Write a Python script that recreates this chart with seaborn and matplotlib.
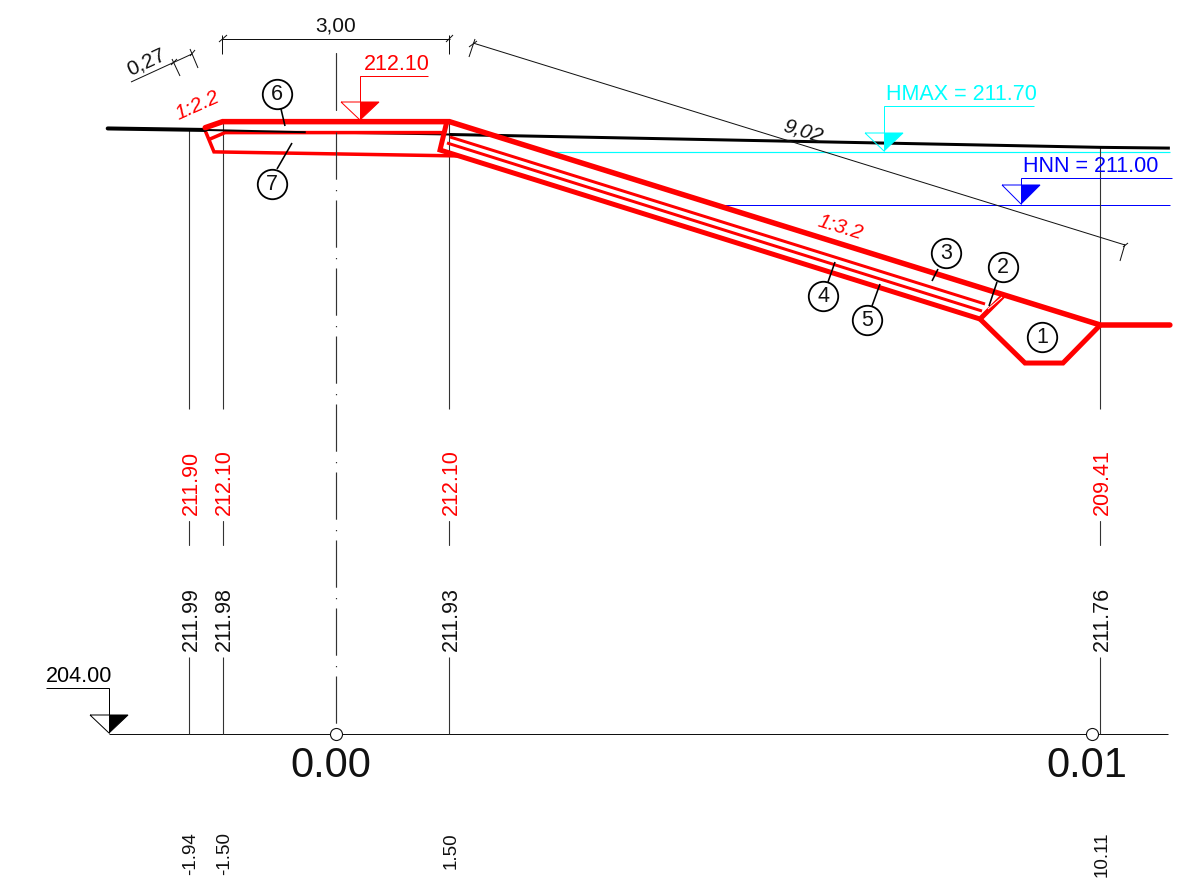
import matplotlib
matplotlib.use("Agg")
import matplotlib.pyplot as plt
from matplotlib.transforms import blended_transform_factory
import seaborn as sns

# profile in metres: station / elevation
STATIONS = [-1.94, -1.50, 1.50, 10.11]
STATION_LABELS = ["-1.94", "-1.50", "1.50", "10.11"]
DESIGN_LEVELS = ["211.90", "212.10", "212.10", "209.41"]
TERRAIN_LEVELS = ["211.99", "211.98", "211.93", "211.76"]
STATION_TOPS = [211.99, 212.10, 212.10, 211.76]

GROUND_X = [-3.02, -1.73, -0.40, 1.50, 10.11, 11.03]
GROUND_Z = [212.01, 211.99, 211.96, 211.93, 211.76, 211.75]

DYKE_TOP_X = [-1.73, -1.50, 1.50, 10.11, 11.03]
DYKE_TOP_Z = [212.02, 212.10, 212.10, 209.41, 209.41]
LAYER6_X = [-1.667, -1.468, 1.415]
LAYER6_Z = [211.87, 211.955, 211.955]
LAYER7_X = [-1.746, -1.614, 1.64]
LAYER7_Z = [212.02, 211.70, 211.646]
TOE_X = [1.468, 1.376, 8.519, 8.823]
TOE_Z = [212.108, 211.725, 209.489, 209.794]
FILTER1_X = [1.508, 8.585]
FILTER1_Z = [211.897, 209.688]
FILTER2_X = [1.468, 8.545]
FILTER2_Z = [211.818, 209.595]
DITCH_X = [8.519, 9.114, 9.616, 10.11]
DITCH_Z = [209.489, 208.907, 208.907, 209.41]
STRIP_X = [8.624, 8.81]
STRIP_Z = [209.622, 209.78]

HMAX_X = [2.80, 11.03]
HMAX_Z = [211.70, 211.70]
HNN_X = [5.106, 11.03]
HNN_Z = [211.00, 211.00]
DATUM_X = [-3.0, 11.0]
DATUM_Z = [204.00, 204.00]
CHAINAGE_X = [0.0, 10.0]
CHAINAGE_LABELS = ["0.00", "0.01"]

# numbered callouts, pixel positions of the bubble and its leader
CALLOUT_NAMES = ["1", "2", "3", "4", "5", "6", "7"]
CALLOUT_X = [1042, 1003, 946, 823, 867, 277, 272]
CALLOUT_Y = [338, 268, 254, 297, 321, 95, 185]
LEADER_X = [None, (997, 989), (938, 932), (828, 835), (872, 880), (281, 285), (277, 292)]
LEADER_Y = [None, (283, 307), (270, 282), (283, 263), (307, 285), (110, 127), (170, 144)]

RED = "#ff0000"
CYAN = "#00ffff"
BLUE = "#0000ff"
INK = "#111111"
PX_PER_M = 75.6
FONT = 15.5

sns.set_theme(style="white")
plt.rcParams["font.family"] = ["Liberation Sans", "DejaVu Sans"]
plt.rcParams["lines.scale_dashes"] = False


def draw(ax, xs, ys, color=INK, px=1.0, cap="butt", join="miter"):
    sns.lineplot(x=xs, y=ys, sort=False, estimator=None, errorbar=None, color=color,
                 linewidth=px * 0.72, solid_capstyle=cap, solid_joinstyle=join,
                 legend=False, ax=ax)


def level_marker(ax, apex_x, apex_y, half, height, leader_y, leader_end, color, text, text_x):
    top = apex_y - height
    draw(ax, [apex_x - half, apex_x + half, apex_x, apex_x - half],
         [top, top, apex_y, top], color, 1.0)
    ax.fill([apex_x, apex_x + half, apex_x], [top, top, apex_y], color=color, lw=0)
    draw(ax, [apex_x, apex_x, leader_end], [apex_y, leader_y, leader_y], color, 1.0)
    ax.text(text_x, leader_y - 2, text, color=color, fontsize=FONT, ha="left", va="bottom")


fig = plt.figure(figsize=(11.81, 8.79), dpi=100)
ax = fig.add_axes([0, 0, 1, 1])
ov = fig.add_axes([0, 0, 1, 1])
ov.patch.set_visible(False)

# --- metres axes: the actual section ---
draw(ax, HMAX_X, HMAX_Z, CYAN, 1.2)
draw(ax, HNN_X, HNN_Z, BLUE, 1.0)
draw(ax, DATUM_X, DATUM_Z, INK, 1.0)

for st, top in zip(STATIONS, STATION_TOPS):
    draw(ax, [st, st], [top, 208.30], "#333333", 1.1)
    draw(ax, [st, st], [205.02, 204.0], "#333333", 1.1)

draw(ax, GROUND_X[2:4], GROUND_Z[2:4], "black", 2.0)
draw(ax, GROUND_X[3:], GROUND_Z[3:], "black", 3.0)

draw(ax, LAYER7_X, LAYER7_Z, RED, 3.5)
draw(ax, LAYER6_X, LAYER6_Z, RED, 3.5)
draw(ax, TOE_X, TOE_Z, RED, 5.0)
draw(ax, FILTER1_X, FILTER1_Z, RED, 3.0)
draw(ax, FILTER2_X, FILTER2_Z, RED, 3.0)
draw(ax, DITCH_X, DITCH_Z, RED, 5.0)
draw(ax, GROUND_X[:2], GROUND_Z[:2], "black", 4.0, cap="round")
draw(ax, GROUND_X[1:3], GROUND_Z[1:3], "black", 2.0)
draw(ax, DYKE_TOP_X, DYKE_TOP_Z, RED, 5.5, cap="round")
draw(ax, STRIP_X, STRIP_Z, "white", 1.0)

ax.set_xlim(-336 / PX_PER_M, (1181 - 336) / PX_PER_M)
ax.set_ylim(204 - (879 - 735) / PX_PER_M, 204 + 735 / PX_PER_M)
ax.set_axis_off()

# --- pixel overlay: dimensions, labels, symbols ---
ov.plot([336, 336], [54, 111], color="#333333", lw=0.85)
ov.plot([336, 336], [133, 729], color="#333333", lw=0.85,
        linestyle=(0, (34.0, 7.4, 0.9, 6.66)))

# dimension 3,00
draw(ov, [222, 450], [40, 40])
draw(ov, [222, 222], [36, 55])
draw(ov, [449, 449], [36, 55])
draw(ov, [219, 227], [43, 36])
draw(ov, [446, 453], [43, 36])
ov.text(336, 26, "3,00", fontsize=15, ha="center", va="center", color=INK)

# dimension 0,27
draw(ov, [131, 192], [83, 55])
draw(ov, [172, 180], [60, 77])
draw(ov, [190, 198], [50, 69])
draw(ov, [171, 177], [66, 60])
draw(ov, [190, 195], [57, 51])
ov.text(146, 62, "0,27", fontsize=15, rotation=25, ha="center", va="center", color=INK)

# dimension 9,02
draw(ov, [473, 1125], [44, 246])
draw(ov, [469, 475], [58, 40])
draw(ov, [469, 477], [48, 42])
draw(ov, [1120, 1125], [262, 245])
draw(ov, [1123, 1128], [248, 244])
ov.text(803, 131, "9,02", fontsize=15, rotation=-17, style="italic",
        ha="center", va="center", color=INK)

ov.text(197, 106, "1:2.2", fontsize=15, rotation=24, style="italic",
        ha="center", va="center", color=RED)
ov.text(840, 228, "1:3.2", fontsize=15, rotation=-17, style="italic",
        ha="center", va="center", color=RED)

level_marker(ov, 360, 121, 19, 18, 77, 428, RED, "212.10", 364)
level_marker(ov, 884, 152, 19, 18, 107, 1034, CYAN, "HMAX = 211.70", 886)
level_marker(ov, 1021, 205, 19, 19, 179, 1172, BLUE, "HNN = 211.00", 1023)
level_marker(ov, 109, 734, 19, 18, 689, 46, "black", "204.00", 46)


def station_text(st, y, label, color=INK, size=FONT, rotation=90, va="center", dx=1.2):
    # small offset because rotated text sits a bit left of its anchor
    ov.annotate(label, (st, y), xycoords=row, xytext=(dx, 0), textcoords="offset points",
                color=color, fontsize=size, rotation=rotation, ha="center", va=va)


# elevation rows hang off the station positions
row = blended_transform_factory(ax.transData, ov.transData)
for st, design, terrain, label in zip(STATIONS, DESIGN_LEVELS, TERRAIN_LEVELS, STATION_LABELS):
    station_text(st, 482.5, design, RED)
    ov.plot([st, st], [522, 546], transform=row, color="#333333", lw=0.8)
    station_text(st, 619, terrain)
    station_text(st, 832, label, size=13.5, va="top")

# chainage ticks
for st, label in zip(CHAINAGE_X, CHAINAGE_LABELS):
    ov.scatter([st], [735], transform=row, s=75, facecolor="white", edgecolor=INK,
               linewidth=0.8, zorder=5)
    station_text(st, 766, label, size=30, rotation=0, dx=-3.6)

# numbered bubbles
for name, cx, cy, lx, ly in zip(CALLOUT_NAMES, CALLOUT_X, CALLOUT_Y, LEADER_X, LEADER_Y):
    if lx is not None:
        draw(ov, list(lx), list(ly), "black", 1.6)
    sns.scatterplot(x=[cx], y=[cy], s=450, color="white", edgecolor="black",
                    linewidth=1.3, legend=False, ax=ov, zorder=4)
    ov.text(cx, cy, name, fontsize=FONT, ha="center", va="center", color=INK, zorder=5)

ov.set_xlim(0, 1181)
ov.set_ylim(879, 0)
ov.set_axis_off()

fig.savefig("out.png", dpi=100)
